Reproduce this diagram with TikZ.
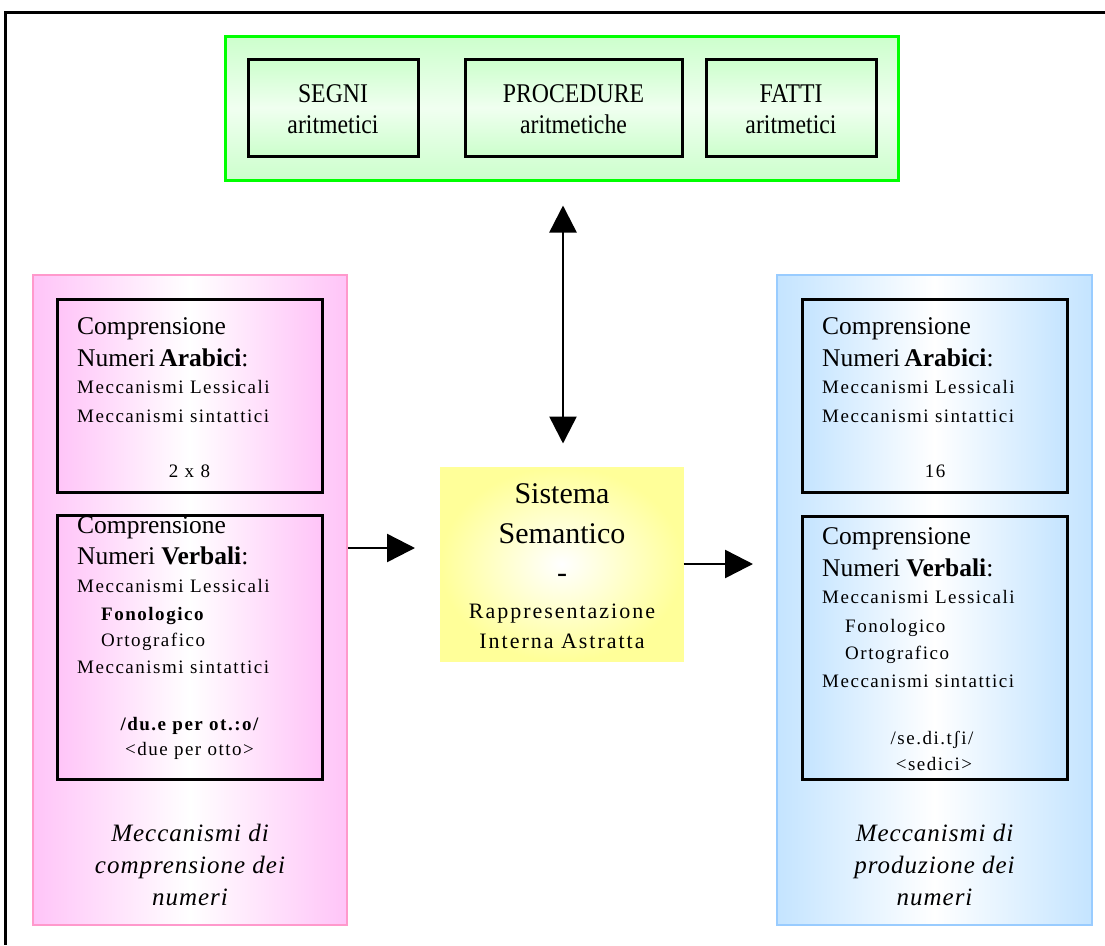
\documentclass[tikz,border=0pt]{standalone}
\usepackage{fontspec}
\usepackage{graphicx}
\setmainfont{Liberation Serif}
\newfontfamily\lsA[LetterSpace=8]{Liberation Serif}
\newfontfamily\lsC[LetterSpace=9]{Liberation Serif}
\newfontfamily\lsD[LetterSpace=4]{Liberation Serif}
\usetikzlibrary{arrows.meta}
\definecolor{grnborder}{HTML}{00FF00}
\definecolor{grnfill}{HTML}{CCFFCC}
\definecolor{grnmid}{HTML}{F0FFF0}
\definecolor{pinkborder}{HTML}{FF99CC}
\definecolor{pinkfill}{HTML}{FFC4F8}
\definecolor{blueborder}{HTML}{99CCFF}
\definecolor{bluefill}{HTML}{C4E4FF}
\definecolor{yelfill}{HTML}{FFFF99}
\newcommand\fBig{\fontsize{25.5}{30}\selectfont}
\newcommand\fSmall{\lsA\fontsize{19}{22}\selectfont}
\newcommand\topt[1]{\scalebox{0.88}[1]{\fontsize{27}{30}\selectfont #1}}
\newcommand\fIt{\lsD\itshape\fontsize{25}{30}\selectfont}
\newcommand\fSis{\fontsize{30}{34}\selectfont}
\newcommand\fRap{\lsC\fontsize{22}{26}\selectfont}
\begin{document}
\begin{tikzpicture}[x=1pt,y=-1pt,
  box/.style={rectangle,inner sep=0pt},
  blackbox/.style={box,draw=black,line width=3pt},
  t/.style={inner sep=0pt,anchor=base west},
  tc/.style={inner sep=0pt,anchor=base},
  arr/.style={line width=2.5pt,-{Triangle[length=28pt,width=28pt]}},
  darr/.style={line width=2.5pt,{Triangle[length=27pt,width=27pt]}-{Triangle[length=27pt,width=27pt]}}]
\useasboundingbox (0,0) rectangle (1105,945);
\fill[white] (0,0) rectangle (1105,945);
% outer frame (clipped at right and bottom)
\draw[line width=3pt] (1105,12) -- (5,12) -- (5,945);

% green box
\node[box,draw=grnborder,line width=3pt,top color=grnfill,bottom color=grnfill,middle color=grnmid,
  minimum width=673pt,minimum height=144pt] (green) at (561.5,108) {};
\node[blackbox,top color=grnfill,bottom color=grnfill,middle color=grnmid,minimum width=170pt,minimum height=97pt] (segni) at (333,107.5) {};
\node[blackbox,top color=grnfill,bottom color=grnfill,middle color=grnmid,minimum width=217pt,minimum height=97pt] (proc) at (573.5,107.5) {};
\node[blackbox,top color=grnfill,bottom color=grnfill,middle color=grnmid,minimum width=170pt,minimum height=97pt] (fatti) at (791,107.5) {};
\node[tc] (segni1) at (333,102.5) {\topt{SEGNI}};
\node[tc] (segni2) at (333,133.5) {\topt{aritmetici}};
\node[tc] (proc1) at (573.5,102.5) {\topt{PROCEDURE}};
\node[tc] (proc2) at (573.5,133.5) {\topt{aritmetiche}};
\node[tc] (fatti1) at (791,102.5) {\topt{FATTI}};
\node[tc] (fatti2) at (791,133.5) {\topt{aritmetici}};

% pink column
\node[box,draw=pinkborder,line width=2.5pt,left color=pinkfill,right color=pinkfill,middle color=white,
  minimum width=314pt,minimum height=650pt] (pink) at (190,600) {};
\node[blackbox,left color=pinkfill,right color=pinkfill,middle color=white,minimum width=265pt,minimum height=193pt] (pa) at (189.5,395.5) {};
\node[blackbox,left color=pinkfill,right color=pinkfill,middle color=white,minimum width=265pt,minimum height=264pt] (pv) at (189.5,647) {};
\node[t] (pa1) at (77,334) {\fBig Comprensione};
\node[t] (pa2) at (77,366) {\fBig Numeri\,\textbf{Arabici}:};
\node[t] (pa3) at (77,393) {\fSmall Meccanismi Lessicali};
\node[t] (pa4) at (77,422) {\fSmall Meccanismi sintattici};
\node[tc] (pa5) at (189.5,477) {\fSmall 2 x 8};
\node[t] (pv1) at (77,533) {\fBig Comprensione};
\node[t] (pv2) at (77,564) {\fBig Numeri \textbf{Verbali}:};
\node[t] (pv3) at (77,592) {\fSmall Meccanismi Lessicali};
\node[t] (pv4) at (101,620) {\fSmall\bfseries Fonologico};
\node[t] (pv5) at (101,646) {\fSmall Ortografico};
\node[t] (pv6) at (77,673) {\fSmall Meccanismi sintattici};
\node[tc] (pv7) at (189.5,730) {\fSmall\bfseries /du.e per ot.:o/};
\node[tc] (pv8) at (189.5,755) {\fSmall <due per otto>};
\node[tc] (pi1) at (190,841) {\fIt Meccanismi di};
\node[tc] (pi2) at (190,873) {\fIt comprensione dei};
\node[tc] (pi3) at (190,905) {\fIt numeri};

% blue column
\node[box,draw=blueborder,line width=2.5pt,left color=bluefill,right color=bluefill,middle color=white,
  minimum width=315pt,minimum height=650pt] (blue) at (934.5,600) {};
\node[blackbox,left color=bluefill,right color=bluefill,middle color=white,minimum width=265pt,minimum height=193pt] (ba) at (934.5,395.5) {};
\node[blackbox,left color=bluefill,right color=bluefill,middle color=white,minimum width=265pt,minimum height=263pt] (bv) at (934.5,647.5) {};
\node[t] (ba1) at (822,334) {\fBig Comprensione};
\node[t] (ba2) at (822,366) {\fBig Numeri\,\textbf{Arabici}:};
\node[t] (ba3) at (822,393) {\fSmall Meccanismi Lessicali};
\node[t] (ba4) at (822,422) {\fSmall Meccanismi sintattici};
\node[tc] (ba5) at (935,477) {\fSmall 16};
\node[t] (bv1) at (822,544) {\fBig Comprensione};
\node[t] (bv2) at (822,576) {\fBig Numeri \textbf{Verbali}:};
\node[t] (bv3) at (822,603) {\fSmall Meccanismi Lessicali};
\node[t] (bv4) at (845,632) {\fSmall Fonologico};
\node[t] (bv5) at (845,659) {\fSmall Ortografico};
\node[t] (bv6) at (822,687) {\fSmall Meccanismi sintattici};
\node[tc] (bv7) at (932,744) {\fSmall /se.di.tʃi/};
\node[tc] (bv8) at (934,770) {\fSmall <sedici>};
\node[tc] (bi1) at (934.5,841) {\fIt Meccanismi di};
\node[tc] (bi2) at (934.5,873) {\fIt produzione dei};
\node[tc] (bi3) at (934.5,905) {\fIt numeri};

% yellow centre
\node[box,draw=yelfill,line width=1pt,inner color=white,outer color=yelfill,
  minimum width=243pt,minimum height=194pt] (yellow) at (561.5,564) {};
\node[tc] (y1) at (562,503) {\fSis Sistema};
\node[tc] (y2) at (562,543) {\fSis Semantico};
\node[tc] (y3) at (562,582) {\fSis -};
\node[tc] (y4) at (562,618) {\fRap Rappresentazione};
\node[tc] (y5) at (562,648) {\fRap Interna Astratta};

% connectors
\coordinate (la) at (415,548);
\coordinate (ra) at (753,564);
\draw[arr] (pink.east |- la) -- (la);
\draw[arr] (yellow.east) -- (ra);
\draw[darr] ([shift={(1.5,24)}]green.south) -- ([shift={(1.5,-23)}]yellow.north);
\end{tikzpicture}
\end{document}
